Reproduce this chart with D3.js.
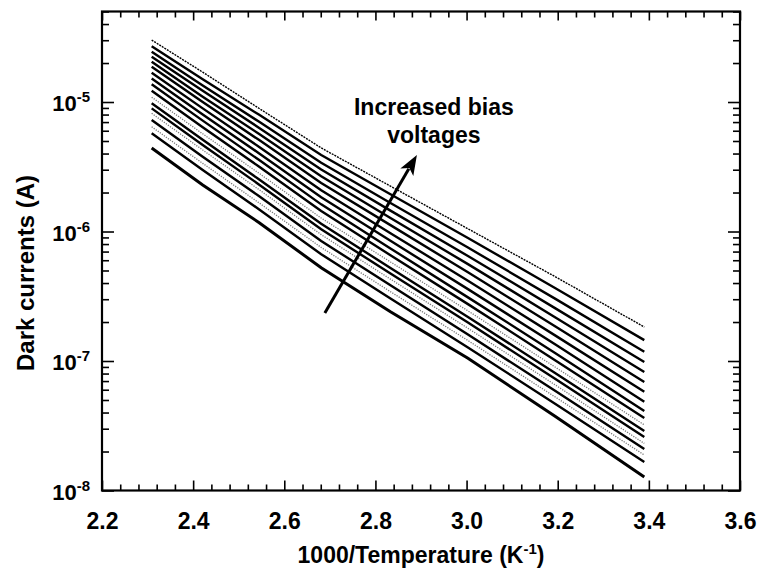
<!DOCTYPE html>
<html>
<head>
<meta charset="utf-8">
<script src="https://cdn.jsdelivr.net/npm/d3@7"></script>
<style>
  html, body { margin: 0; padding: 0; background: #fff; }
  text { font-family: "Liberation Sans", Arial, sans-serif; font-weight: bold; fill: #000; }
</style>
</head>
<body>
<div id="chart"></div>
<script>
// 1000/T (K^-1) of each measured temperature
const invTemps = [2.309, 2.421, 2.545, 2.681, 2.833, 3.003, 3.195, 3.390];

// dark current (A) for every bias, highest bias first
const currents = [
  [3.01e-5, 1.70e-5, 8.91e-6, 4.42e-6, 2.24e-6, 1.05e-6, 4.47e-7, 1.83e-7],
  [2.70e-5, 1.50e-5, 7.96e-6, 3.90e-6, 1.94e-6, 8.91e-7, 3.65e-7, 1.45e-7],
  [2.44e-5, 1.34e-5, 7.03e-6, 3.40e-6, 1.66e-6, 7.52e-7, 3.02e-7, 1.18e-7],
  [2.24e-5, 1.22e-5, 6.31e-6, 3.01e-6, 1.45e-6, 6.47e-7, 2.55e-7, 9.82e-8],
  [2.05e-5, 1.10e-5, 5.66e-6, 2.67e-6, 1.27e-6, 5.60e-7, 2.17e-7, 8.22e-8],
  [1.87e-5, 1.00e-5, 5.08e-6, 2.37e-6, 1.12e-6, 4.84e-7, 1.85e-7, 6.89e-8],
  [1.68e-5, 8.93e-6, 4.50e-6, 2.08e-6, 9.70e-7, 4.17e-7, 1.57e-7, 5.79e-8],
  [1.52e-5, 8.02e-6, 4.01e-6, 1.84e-6, 8.47e-7, 3.59e-7, 1.34e-7, 4.85e-8],
  [1.37e-5, 7.18e-6, 3.56e-6, 1.62e-6, 7.40e-7, 3.10e-7, 1.15e-7, 4.11e-8],
  [1.22e-5, 6.38e-6, 3.16e-6, 1.44e-6, 6.56e-7, 2.75e-7, 1.01e-7, 3.63e-8],
  [1.09e-5, 5.68e-6, 2.81e-6, 1.27e-6, 5.82e-7, 2.44e-7, 8.95e-8, 3.21e-8],
  [9.77e-6, 5.11e-6, 2.52e-6, 1.15e-6, 5.22e-7, 2.19e-7, 8.05e-8, 2.88e-8],
  [8.93e-6, 4.66e-6, 2.30e-6, 1.04e-6, 4.74e-7, 1.98e-7, 7.26e-8, 2.59e-8],
  [8.18e-6, 4.26e-6, 2.10e-6, 9.46e-7, 4.29e-7, 1.79e-7, 6.52e-8, 2.31e-8],
  [7.26e-6, 3.78e-6, 1.87e-6, 8.45e-7, 3.84e-7, 1.60e-7, 5.86e-8, 2.09e-8],
  [6.44e-6, 3.36e-6, 1.66e-6, 7.53e-7, 3.43e-7, 1.44e-7, 5.26e-8, 1.88e-8],
  [5.73e-6, 2.99e-6, 1.48e-6, 6.68e-7, 3.04e-7, 1.27e-7, 4.66e-8, 1.66e-8],
  [4.42e-6, 2.29e-6, 1.17e-6, 5.25e-7, 2.40e-7, 1.05e-7, 3.72e-8, 1.27e-8]
];

const xTicks = [2.2, 2.4, 2.6, 2.8, 3.0, 3.2, 3.4, 3.6];
const yDecades = [1e-8, 1e-7, 1e-6, 1e-5];

// arrow annotation, in data units: [1000/T, current]
const arrowFrom = [2.689, 2.35e-7];
const arrowTo = [2.891, 3.9e-6];
const annotation = ['Increased bias', 'voltages'];

const width = 759;
const height = 573;
const plot = { left: 102, right: 740, top: 11.5, bottom: 490.5 };

const svg = d3.select('#chart')
  .append('svg')
  .attr('width', width)
  .attr('height', height);

const x = d3.scaleLinear().domain([2.2, 3.6]).range([plot.left, plot.right]);
const y = d3.scaleLog().domain([1e-8, 5e-5]).range([plot.bottom, plot.top]);

// minor ticks every 0.04 on x, 2..9 per decade on y
const xMinor = d3.range(2.2, 3.6001, 0.04).map(v => +v.toFixed(2))
  .filter(v => !xTicks.some(t => Math.abs(t - v) < 1e-6));
const yMinor = [];
[-8, -7, -6, -5].forEach(e => {
  for (let m = 2; m <= 9; m++) {
    const v = m * Math.pow(10, e);
    if (v <= 5e-5) yMinor.push(v);
  }
});

// --- lines
const line = d3.line()
  .x((d, i) => x(invTemps[i]))
  .y(d => y(d));

// scanned grey/stippled curves in the lower band
const grayDotted = new Set([10, 13, 15]);

svg.append('g')
  .selectAll('path')
  .data(currents)
  .join('path')
  .attr('d', line)
  .attr('fill', 'none')
  .attr('stroke', (d, i) => grayDotted.has(i) ? '#777' : '#000')
  .attr('stroke-width', (d, i) => {
    if (i === 0) return 1.4;
    if (grayDotted.has(i)) return 1.3;
    if (i === currents.length - 1) return 3;
    return 2.4;
  })
  .attr('stroke-dasharray', (d, i) => {
    if (i === 0) return '2,1';
    if (grayDotted.has(i)) return '1.2,1.3';
    return null;
  });

// --- axes (ticks point inward)
function axisGroup(axis, tx, ty) {
  const g = svg.append('g')
    .attr('transform', `translate(${tx},${ty})`)
    .call(axis);
  g.select('.domain').remove();
  g.selectAll('line').attr('stroke', '#000').attr('stroke-width', 1.6);
  return g;
}

axisGroup(d3.axisBottom(x).tickValues(xMinor).tickSize(-6).tickFormat(''), 0, plot.bottom);
axisGroup(d3.axisTop(x).tickValues(xMinor).tickSize(-6).tickFormat(''), 0, plot.top);
axisGroup(d3.axisTop(x).tickValues(xTicks).tickSize(-9).tickFormat(''), 0, plot.top);
const xAxis = axisGroup(
  d3.axisBottom(x).tickValues(xTicks).tickSize(-10).tickPadding(22).tickFormat(d3.format('.1f')),
  0, plot.bottom);
xAxis.selectAll('text')
  .attr('font-size', 23)
  .attr('font-family', '"Liberation Sans", Arial, sans-serif')
  .attr('font-weight', 'bold')
  .attr('fill', '#000');

axisGroup(d3.axisLeft(y).tickValues(yMinor).tickSize(-7).tickFormat(''), plot.left, 0);
axisGroup(d3.axisLeft(y).tickValues(yDecades).tickSize(-12).tickFormat(''), plot.left, 0);
axisGroup(d3.axisRight(y).tickValues(yMinor).tickSize(-7).tickFormat(''), plot.right, 0);
axisGroup(d3.axisRight(y).tickValues(yDecades).tickSize(-12).tickFormat(''), plot.right, 0);

// y tick labels as 10^n
const yLabels = svg.append('g')
  .selectAll('text')
  .data(yDecades)
  .join('text')
  .attr('x', plot.left - 12)
  .attr('y', d => y(d) + 9)
  .attr('text-anchor', 'end')
  .attr('font-size', 22);
yLabels.append('tspan').text('10');
yLabels.append('tspan')
  .attr('font-size', 15)
  .attr('dy', -9)
  .text(d => '-' + Math.round(-Math.log10(d)));

// frame
svg.append('rect')
  .attr('x', plot.left)
  .attr('y', plot.top)
  .attr('width', plot.right - plot.left)
  .attr('height', plot.bottom - plot.top)
  .attr('fill', 'none')
  .attr('stroke', '#000')
  .attr('stroke-width', 2.2);

// axis titles
const xTitle = svg.append('text')
  .attr('x', (plot.left + plot.right) / 2)
  .attr('y', 563)
  .attr('text-anchor', 'middle')
  .attr('font-size', 23);
xTitle.append('tspan').text('1000/Temperature (K');
xTitle.append('tspan').attr('font-size', 15).attr('dy', -9).text('-1');
xTitle.append('tspan').attr('dy', 9).text(')');

svg.append('text')
  .attr('transform', `translate(34,${(plot.top + plot.bottom) / 2 + 22}) rotate(-90)`)
  .attr('text-anchor', 'middle')
  .attr('font-size', 24)
  .text('Dark currents (A)');

// annotation arrow
const p0 = [x(arrowFrom[0]), y(arrowFrom[1])];
const p1 = [x(arrowTo[0]), y(arrowTo[1])];
const ang = Math.atan2(p1[1] - p0[1], p1[0] - p0[0]);
const headLen = 20, headHalf = 7.5;
const base = [p1[0] - headLen * Math.cos(ang), p1[1] - headLen * Math.sin(ang)];

svg.append('line')
  .attr('x1', p0[0]).attr('y1', p0[1])
  .attr('x2', base[0] + 4 * Math.cos(ang)).attr('y2', base[1] + 4 * Math.sin(ang))
  .attr('stroke', '#000')
  .attr('stroke-width', 3);

svg.append('path')
  .attr('d', d3.line()([
    p1,
    [base[0] + headHalf * Math.sin(ang), base[1] - headHalf * Math.cos(ang)],
    [base[0] + 5 * Math.cos(ang), base[1] + 5 * Math.sin(ang)],
    [base[0] - headHalf * Math.sin(ang), base[1] + headHalf * Math.cos(ang)]
  ]) + 'Z')
  .attr('fill', '#000');

svg.append('g')
  .selectAll('text')
  .data(annotation)
  .join('text')
  .attr('x', p1[0] + 17)
  .attr('y', (d, i) => p1[1] - 40 + i * 28)
  .attr('text-anchor', 'middle')
  .attr('font-size', 23)
  .text(d => d);
</script>
</body>
</html>
